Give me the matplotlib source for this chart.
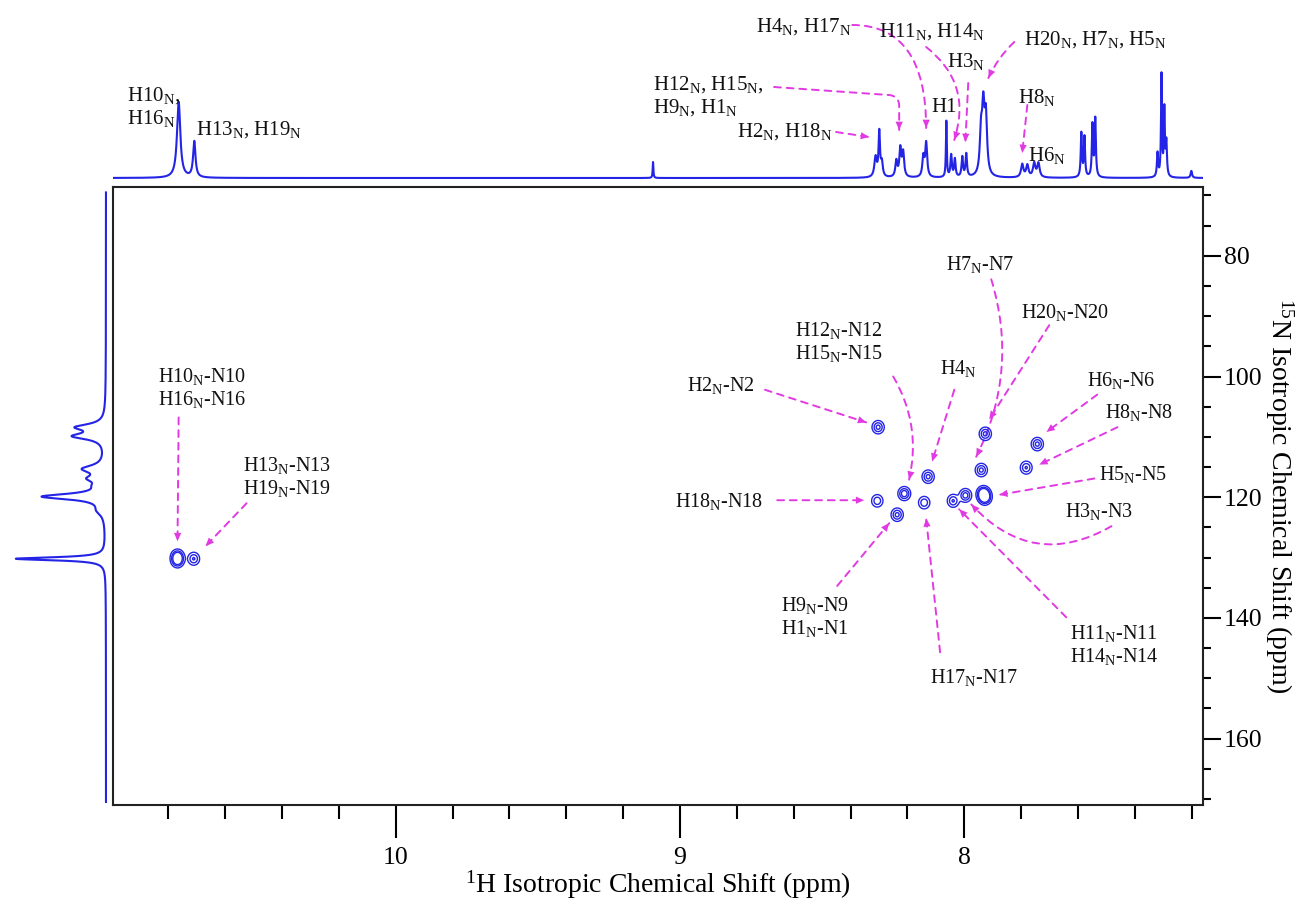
import numpy as np
import matplotlib
matplotlib.use("Agg")
import matplotlib.pyplot as plt
from matplotlib.patches import FancyArrowPatch
from matplotlib.ticker import MultipleLocator, FixedLocator

plt.rcParams['font.family'] = ['Liberation Serif', 'DejaVu Serif']
plt.rcParams['mathtext.fontset'] = 'custom'
plt.rcParams['mathtext.rm'] = 'Liberation Serif'
plt.rcParams['mathtext.it'] = 'Liberation Serif:italic'

BLUE = '#2424e6'
MAG = '#e23ae2'

# 1H projection (top): peak position (ppm), height, half width (ppm)
h1_pos = [10.764, 10.709, 9.095, 8.312, 8.299, 8.290, 8.239, 8.225, 8.215, 8.144, 8.134,
          8.063, 8.046, 8.033, 8.007, 7.993, 7.941, 7.933, 7.924,
          7.796, 7.778, 7.754, 7.739, 7.588, 7.577, 7.549, 7.539,
          7.320, 7.306, 7.296, 7.289, 7.201]
h1_height = [76, 36, 16, 20, 44, 14, 16, 28, 24, 20, 34,
             56, 22, 18, 20, 23, 40, 62, 56,
             13, 12, 14, 14, 44, 40, 52, 58,
             24, 102, 66, 34, 7]
h1_width = [0.007, 0.005, 0.0015, 0.005, 0.003, 0.004, 0.004, 0.004, 0.004, 0.004, 0.004,
            0.0018, 0.003, 0.003, 0.003, 0.003, 0.005, 0.005, 0.005,
            0.005, 0.005, 0.005, 0.005, 0.0025, 0.0025, 0.0025, 0.0025,
            0.0025, 0.002, 0.002, 0.0025, 0.003]

# 15N projection (left): position (ppm), height, half width (ppm)
n_pos = [108.4, 109.9, 115.3, 116.9, 118.1, 119.9, 122.2, 130.2]
n_height = [27, 30, 21, 13, 5, 62, 6, 90]
n_width = [0.6, 0.6, 0.7, 0.6, 0.6, 0.55, 0.9, 0.3]

# 2D cross peaks: 1H shift, 15N shift, amplitude
cross_h = [10.768, 10.768, 10.711, 8.303, 8.306, 8.211, 8.236, 8.127, 8.141,
           8.039, 7.996, 7.933, 7.927, 7.930, 7.926, 7.940, 7.743, 7.782]
cross_n = [129.8, 130.5, 130.2, 108.4, 120.6, 119.4, 122.9, 116.6, 120.9,
           120.6, 119.7, 119.3, 120.1, 119.7, 109.5, 115.5, 111.2, 115.1]
cross_amp = [1.3, 1.3, 0.9, 1.0, 0.8, 1.2, 1.0, 1.0, 0.8,
             0.9, 1.1, 1.2, 1.2, 1.2, 1.0, 1.0, 1.0, 0.9]


def lorentz(x, pos, height, width):
    y = np.zeros_like(x)
    for p, h, w in zip(pos, height, width):
        y += h * w**2 / ((x - p)**2 + w**2)
    return y


fig = plt.figure(figsize=(12.99, 8.99), dpi=100)
L, B, W, H = 113/1299, 1 - 805/899, (1203 - 113)/1299, (805 - 187)/899
ax = fig.add_axes([L, B, W, H])
ax_top = fig.add_axes([L, 1 - 184/899, W, 184/899])
ax_left = fig.add_axes([0, B, L, H])

XL = (10.995, 7.16)
YL = (171, 68.6)

# main 2D contour plot
hx = np.linspace(XL[0], XL[1], 1600)
ny = np.linspace(YL[1], YL[0], 900)
HX, NY = np.meshgrid(hx, ny)
Z = np.zeros_like(HX)
for h, n, a in zip(cross_h, cross_n, cross_amp):
    Z += a * np.exp(-((HX - h)/0.012)**2/2 - ((NY - n)/0.62)**2/2)
ax.contour(HX, NY, Z, levels=[0.2, 0.5, 0.85], colors=BLUE, linewidths=1.0)
ax.set_xlim(*XL)
ax.set_ylim(*YL)

for s in ax.spines.values():
    s.set_linewidth(1.5)
    s.set_color('#222222')
ax.xaxis.set_major_locator(FixedLocator([10, 9, 8]))
ax.xaxis.set_minor_locator(MultipleLocator(0.2))
ax.yaxis.set_major_locator(MultipleLocator(20))
ax.yaxis.set_minor_locator(MultipleLocator(5))
ax.yaxis.tick_right()
ax.yaxis.set_label_position('right')
ax.tick_params(axis='x', which='major', length=24, width=1.5, labelsize=18.5, pad=6, direction='out')
ax.tick_params(axis='x', which='minor', length=10, width=1.5, direction='out')
ax.tick_params(axis='y', which='major', length=13, width=1.5, labelsize=18.5, pad=2, direction='out')
ax.tick_params(axis='y', which='minor', length=6, width=1.5, direction='out')
ax.set_xlabel(r'$^{1}$H Isotropic Chemical Shift (ppm)', fontsize=20, labelpad=0)
ax.set_ylabel(r'$^{15}$N Isotropic Chemical Shift (ppm)', fontsize=20, rotation=270, labelpad=24)

# top 1H projection
xs = np.linspace(XL[0] - 0.002, XL[1], 9000)
ax_top.plot(xs, lorentz(xs, h1_pos, h1_height, h1_width), color=BLUE, lw=1.5)
ax_top.set_xlim(*XL)
ax_top.set_ylim(-6, 178)
ax_top.axis('off')

# left 15N projection
ns = np.linspace(69.5, 170.5, 3000)
ax_left.plot(lorentz(ns, n_pos, n_height, n_width), ns, color=BLUE, lw=1.5)
ax_left.set_ylim(*YL)
ax_left.set_xlim(106, -7)
ax_left.axis('off')


def arrow(a, start, end, cs='arc3,rad=0'):
    a.add_patch(FancyArrowPatch(start, end, arrowstyle='-', connectionstyle=cs,
                                color=MAG, lw=1.4, ls=(0, (3.5, 3)),
                                shrinkA=0, shrinkB=0, clip_on=False))
    a.add_patch(FancyArrowPatch(start, end, arrowstyle='-|>,head_length=6,head_width=2.6',
                                connectionstyle=cs, color=MAG, lw=0,
                                shrinkA=0, shrinkB=0, mutation_scale=1, clip_on=False))


def lab(a, x, y, s, size=14.5, ha='center'):
    a.text(x, y, s, fontsize=size, ha=ha, va='center', linespacing=1.15,
           multialignment=ha if ha != 'right' else 'left', color='#111111')


N = r'$_{\mathrm{N}}$'

# labels on the 2D plot
lab(ax, 10.68, 101.9, f'H10{N}-N10\nH16{N}-N16')
arrow(ax, (10.764, 106.8), (10.768, 127.3))
lab(ax, 10.384, 116.7, f'H13{N}-N13\nH19{N}-N19')
arrow(ax, (10.525, 121.0), (10.669, 128.1))
lab(ax, 8.856, 101.5, f'H2{N}-N2')
arrow(ax, (8.701, 102.2), (8.345, 107.6))
lab(ax, 8.44, 94.3, f'H12{N}-N12\nH15{N}-N15')
arrow(ax, (8.25, 100.0), (8.194, 117.1), 'arc3,rad=-0.2')
lab(ax, 8.021, 98.7, f'H4{N}')
arrow(ax, (8.035, 102.2), (8.113, 114.1))
lab(ax, 7.944, 81.5, f'H7{N}-N7')
arrow(ax, (7.905, 83.9), (7.958, 113.3), 'arc3,rad=-0.2')
lab(ax, 7.644, 89.4, f'H20{N}-N20')
arrow(ax, (7.701, 91.5), (7.912, 107.1))
lab(ax, 7.447, 100.7, f'H6{N}-N6')
arrow(ax, (7.532, 103.0), (7.711, 109.2))
lab(ax, 7.384, 105.9, f'H8{N}-N8')
arrow(ax, (7.461, 108.4), (7.736, 114.6))
lab(ax, 7.408, 116.3, f'H5{N}-N5')
arrow(ax, (7.542, 116.9), (7.877, 119.6))
lab(ax, 7.525, 122.4, f'H3{N}-N3')
arrow(ax, (7.482, 124.8), (7.975, 121.2), 'arc3,rad=-0.4')
lab(ax, 7.472, 144.5, f'H11{N}-N11\nH14{N}-N14')
arrow(ax, (7.641, 139.9), (8.018, 122.0))
lab(ax, 7.965, 149.8, f'H17{N}-N17')
arrow(ax, (8.085, 145.7), (8.134, 123.5))
lab(ax, 8.525, 139.8, f'H9{N}-N9\nH1{N}-N1')
arrow(ax, (8.447, 134.7), (8.264, 124.3))
lab(ax, 8.863, 120.7, f'H18{N}-N18')
arrow(ax, (8.658, 120.5), (8.352, 120.5))

# labels on the 1H projection
lab(ax_top, 10.947, 71, f'H10{N},\nH16{N}', size=15, ha='left')
lab(ax_top, 10.704, 48, f'H13{N}, H19{N}', size=15, ha='left')
lab(ax_top, 8.465, 46, f'H2{N}, H18{N}', size=15, ha='right')
arrow(ax_top, (8.451, 46), (8.335, 41))
lab(ax_top, 8.704, 82, f'H12{N}, H15{N},\nH9{N}, H1{N}', size=15, ha='right')
arrow(ax_top, (8.669, 91), (8.229, 48), 'angle,angleA=-4,angleB=90,rad=10')
lab(ax_top, 8.563, 151, f'H4{N}, H17{N}', size=15)
arrow(ax_top, (8.394, 153), (8.134, 50), 'angle3,angleA=0,angleB=90')
lab(ax_top, 8.113, 146, f'H11{N}, H14{N}', size=15)
arrow(ax_top, (8.134, 131), (8.035, 38), 'arc3,rad=-0.35')
lab(ax_top, 8.070, 71, 'H1', size=15)
lab(ax_top, 7.993, 116, f'H3{N}', size=15)
arrow(ax_top, (7.986, 95), (7.996, 36))
lab(ax_top, 7.789, 138, f'H20{N}, H7{N}, H5{N}', size=15, ha='left')
arrow(ax_top, (7.824, 136), (7.915, 100), 'arc3,rad=0.1')
lab(ax_top, 7.743, 81, f'H8{N}', size=15)
arrow(ax_top, (7.778, 73), (7.796, 25))
lab(ax_top, 7.708, 23, f'H6{N}', size=15)

fig.savefig('out.png', dpi=100)
